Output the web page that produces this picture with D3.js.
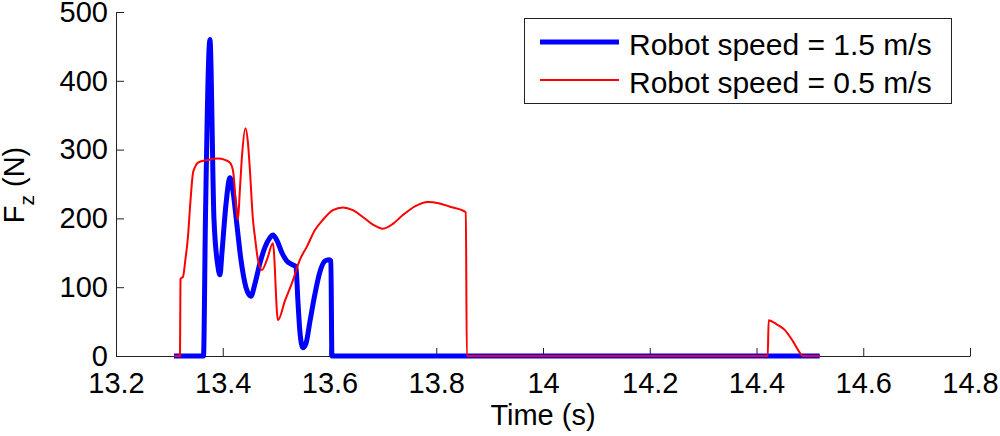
<!DOCTYPE html>
<html>
<head>
<meta charset="utf-8">
<script src="https://cdn.jsdelivr.net/npm/d3@7"></script>
<style>
  body { margin: 0; background: #fff; }
  text { font-family: Arial, "Liberation Sans", sans-serif; fill: #000; }
</style>
</head>
<body>
<svg width="1000" height="436"></svg>
<script>
// series: time (s) and Fz (N)
const fastTime = [13.3086, 13.3639, 13.3676, 13.376, 13.3835, 13.391, 13.3948, 13.3985, 13.406, 13.4135,
  13.4191, 13.4266, 13.4341, 13.4434, 13.4528, 13.4603, 13.4697, 13.479, 13.4884, 13.494,
  13.5015, 13.5109, 13.5202, 13.5296, 13.5371, 13.5408, 13.5446, 13.5502, 13.5558, 13.5633,
  13.5727, 13.582, 13.5914, 13.5989, 13.6026, 13.6045, 14.5184];
const fastForce = [0, 0, 200, 460, 200, 130, 118, 150, 220, 259,
  240, 190, 140, 100, 87, 105, 135, 158, 172, 176,
  168, 150, 138, 133, 130, 80, 35, 12, 18, 50,
  90, 122, 138, 140, 138, 0, 0];

const slowTime = [13.3086, 13.3199, 13.3208, 13.3255, 13.33, 13.3348, 13.3395, 13.3442, 13.3489, 13.3536,
  13.3723, 13.391, 13.4041, 13.4135, 13.4191, 13.4285, 13.432, 13.436, 13.4425, 13.4472,
  13.4509, 13.4566, 13.4603, 13.4659, 13.4734, 13.4828, 13.494, 13.5034, 13.5165, 13.5315,
  13.5446, 13.5577, 13.5727, 13.5876, 13.6064, 13.6251, 13.6438, 13.6625, 13.6813, 13.7,
  13.7187, 13.7375, 13.7609, 13.7843, 13.8049, 13.8255, 13.8554, 13.8573, 14.421, 14.4228,
  14.4378, 14.4528, 14.4678, 14.481, 14.4865, 14.5184];
const slowForce = [0, 0, 112, 115, 140, 173, 225, 266, 276, 281,
  285, 287, 285, 281, 270, 198, 240, 290, 331, 310,
  270, 198, 173, 140, 125, 140, 164, 52, 80, 110,
  140, 159, 183, 198, 212, 216, 212, 202, 191, 185,
  192, 205, 218, 224, 222, 217, 209, 0, 0, 52,
  46, 38, 22, 5, 0, 0];

const xTicks = [13.2, 13.4, 13.6, 13.8, 14, 14.2, 14.4, 14.6, 14.8];
const xTickLabels = ["13.2", "13.4", "13.6", "13.8", "14", "14.2", "14.4", "14.6", "14.8"];
const yTicks = [0, 100, 200, 300, 400, 500];
const legendLabels = ["Robot speed = 1.5 m/s", "Robot speed = 0.5 m/s"];

const svg = d3.select("svg");

const x = d3.scaleLinear().domain([13.2, 14.8]).range([116, 970]);
const y = d3.scaleLinear().domain([0, 500]).range([356, 12]);

// matlab style axes, ticks point inward
const xAxis = d3.axisBottom(x)
  .tickValues(xTicks)
  .tickFormat((d, i) => xTickLabels[i])
  .tickSizeInner(-8).tickSizeOuter(0).tickPadding(16);
const yAxis = d3.axisLeft(y)
  .tickValues(yTicks)
  .tickSizeInner(-8).tickSizeOuter(0).tickPadding(8);

const gx = svg.append("g").attr("transform", "translate(0,356)").call(xAxis);
const gy = svg.append("g").attr("transform", "translate(116,0)").call(yAxis);
[gx, gy].forEach(g => {
  g.selectAll("text").style("font-size", "29px").style("font-family", "Arial, 'Liberation Sans', sans-serif");
  g.selectAll("path, line").attr("stroke", "#222").attr("stroke-width", 1);
});

const line = d3.line()
  .curve(d3.curveMonotoneX)
  .x(d => x(d[0]))
  .y(d => y(d[1]));

const fast = fastTime.map((t, i) => [t, fastForce[i]]);
const slow = slowTime.map((t, i) => [t, slowForce[i]]);

svg.append("path")
  .datum(fast)
  .attr("fill", "none")
  .attr("stroke", "#0000ff")
  .attr("stroke-width", 5)
  .attr("stroke-linejoin", "round")
  .attr("d", line);

svg.append("path")
  .datum(slow)
  .attr("fill", "none")
  .attr("stroke", "#ff0000")
  .attr("stroke-width", 2)
  .attr("stroke-linejoin", "round")
  .attr("d", line);

// axis titles
svg.append("text")
  .attr("x", 543).attr("y", 425)
  .attr("text-anchor", "middle")
  .style("font-size", "29px")
  .text("Time (s)");

const yl = svg.append("text")
  .attr("transform", "translate(24,185) rotate(-90)")
  .attr("text-anchor", "middle")
  .style("font-size", "29px");
yl.append("tspan").text("F");
yl.append("tspan").attr("dy", 10).style("font-size", "21px").text("z");
yl.append("tspan").attr("dy", -10).text(" (N)");

// legend
const leg = svg.append("g");
leg.append("rect")
  .attr("x", 524.5).attr("y", 18.5)
  .attr("width", 427).attr("height", 85)
  .attr("fill", "#fff").attr("stroke", "#222");
const legColors = ["#0000ff", "#ff0000"];
const legWidths = [5, 2];
legendLabels.forEach((lab, i) => {
  const cy = 42 + i * 38;
  leg.append("line")
    .attr("x1", 540).attr("x2", 619)
    .attr("y1", cy).attr("y2", cy)
    .attr("stroke", legColors[i]).attr("stroke-width", legWidths[i]);
  leg.append("text")
    .attr("x", 629).attr("y", cy + 13)
    .style("font-size", "30px")
    .text(lab);
});
</script>
</body>
</html>
